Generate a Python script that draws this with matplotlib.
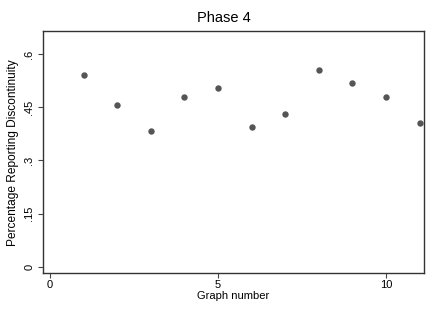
import matplotlib
matplotlib.use('Agg')
import matplotlib.pyplot as plt

graph = [1, 2, 3, 4, 5, 6, 7, 8, 9, 10, 11]
pct = [0.542, 0.455, 0.382, 0.480, 0.505, 0.394, 0.431, 0.554, 0.517, 0.480, 0.406]
yticks = [0, 0.15, 0.3, 0.45, 0.6]
ylabels = ['0', '.15', '.3', '.45', '.6']
xticks = [0, 5, 10]

plt.rcParams['font.family'] = ['Liberation Sans', 'DejaVu Sans']

fig = plt.figure(figsize=(4.36, 3.17), dpi=100)
ax = fig.add_axes([42.7 / 436, 1 - 273.3 / 317, (424.3 - 42.7) / 436, (273.3 - 31) / 317])

ax.plot(graph, pct, 'o', color='#555555', markersize=4.6, markeredgewidth=0)

ax.set_xlim(-0.217, 11.14)
ax.set_ylim(-0.0186, 0.665)
ax.set_xticks(xticks)
ax.set_yticks(yticks)
ax.set_yticklabels(ylabels, rotation=90, va='center')
ax.tick_params(direction='out', length=3.6, width=0.8, color='#444444', labelsize=8, pad=2.5)
ax.tick_params(axis='x', pad=1.5)
for s in ax.spines.values():
    s.set_color('#333333')
    s.set_linewidth(1)

ax.set_xlabel('Graph number', fontsize=8, labelpad=0.5)
ax.set_ylabel('Percentage Reporting Discontinuity', fontsize=8.6, labelpad=3.5)
fig.text(224 / 436, 1 - 18 / 317, 'Phase 4', ha='center', va='center', fontsize=10.5)

fig.savefig('out.png', dpi=100)
